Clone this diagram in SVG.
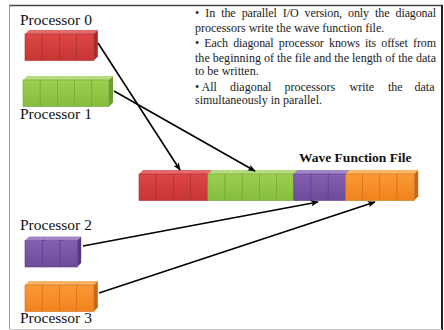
<svg xmlns="http://www.w3.org/2000/svg" xmlns:xlink="http://www.w3.org/1999/xlink" width="444" height="330" viewBox="0 0 444 330">
<style>
  .lbl { font-family: "Liberation Serif", "Times New Roman", serif; font-size: 15.5px; fill: #111; }
  .title { font-family: "Liberation Serif", "Times New Roman", serif; font-size: 13.5px; font-weight: bold; fill: #111; }
  .note { font-family: "Liberation Serif", "Times New Roman", serif; font-size: 12px; fill: #222; }
  .conn { stroke: #000; stroke-width: 1.6; fill: none; marker-end: url(#ah); }
</style>
<defs>
  <marker id="ah" viewBox="0 0 10 10" refX="9" refY="5" markerWidth="8" markerHeight="8" orient="auto" markerUnits="userSpaceOnUse">
    <path d="M0,1 L10,5 L0,9 L2.5,5 Z" fill="#000"/>
  </marker>
  <linearGradient id="gR" x1="0" y1="0" x2="0" y2="1"><stop offset="0" stop-color="#dc4646"/><stop offset="1" stop-color="#c83434"/></linearGradient>
  <linearGradient id="gG" x1="0" y1="0" x2="0" y2="1"><stop offset="0" stop-color="#9ccf50"/><stop offset="1" stop-color="#86bd3c"/></linearGradient>
  <linearGradient id="gP" x1="0" y1="0" x2="0" y2="1"><stop offset="0" stop-color="#8560b0"/><stop offset="1" stop-color="#6e4a9a"/></linearGradient>
  <linearGradient id="gO" x1="0" y1="0" x2="0" y2="1"><stop offset="0" stop-color="#fa9a36"/><stop offset="1" stop-color="#f0821c"/></linearGradient>
  <g id="cR">
    <polygon points="0,0 4,-4 21.2,-4 17.2,0" fill="#e56a6a"/>
    <polygon points="17.2,0 21.2,-4 21.2,22.5 17.2,26.5" fill="#a82a2a"/>
    <rect x="0" y="0" width="17.2" height="26.5" fill="url(#gR)" stroke="#ad2c2c" stroke-width="0.6"/>
  </g>
  <g id="cG">
    <polygon points="0,0 4,-4 21.2,-4 17.2,0" fill="#b5dc80"/>
    <polygon points="17.2,0 21.2,-4 21.2,22.5 17.2,26.5" fill="#6e9c2e"/>
    <rect x="0" y="0" width="17.2" height="26.5" fill="url(#gG)" stroke="#74a433" stroke-width="0.6"/>
  </g>
  <g id="cP">
    <polygon points="0,0 4,-4 21.2,-4 17.2,0" fill="#a285c6"/>
    <polygon points="17.2,0 21.2,-4 21.2,22.5 17.2,26.5" fill="#573a7e"/>
    <rect x="0" y="0" width="17.2" height="26.5" fill="url(#gP)" stroke="#5e3f88" stroke-width="0.6"/>
  </g>
  <g id="cO">
    <polygon points="0,0 4,-4 21.2,-4 17.2,0" fill="#fbb566"/>
    <polygon points="17.2,0 21.2,-4 21.2,22.5 17.2,26.5" fill="#c96712"/>
    <rect x="0" y="0" width="17.2" height="26.5" fill="url(#gO)" stroke="#d06e16" stroke-width="0.6"/>
  </g>
</defs>

<rect width="444" height="330" fill="#fff"/>
<g id="frame">
  <line x1="9" y1="5.5" x2="443" y2="5.5" stroke="#444" stroke-width="1.5"/>
  <line x1="9.5" y1="5" x2="9.5" y2="330" stroke="#999" stroke-width="1"/>
  <line x1="442" y1="5" x2="442" y2="330" stroke="#222" stroke-width="2"/>
  <line x1="9" y1="329.5" x2="442" y2="329.5" stroke="#ccc" stroke-width="1"/>
</g>

<g id="notes">
  <text class="note" x="195" y="17.3" textLength="241" lengthAdjust="spacing" word-spacing="3.3">• In the parallel I/O version, only the diagonal</text>
  <text class="note" x="195" y="32.3">processors write the wave function file.</text>
  <text class="note" x="195" y="46.7" textLength="241" lengthAdjust="spacing" word-spacing="2.4">• Each diagonal processor knows its offset from</text>
  <text class="note" x="195" y="61.7" textLength="241" lengthAdjust="spacing">the beginning of the file and the length of the data</text>
  <text class="note" x="195" y="75">to be written.</text>
  <text class="note" y="90.5"><tspan x="195">• All</tspan><tspan x="230">diagonal</tspan><tspan x="284.5">processors</tspan><tspan x="349.5">write</tspan><tspan x="388">the</tspan><tspan x="414.5">data</tspan></text>
  <text class="note" x="195" y="104.3">simultaneously in parallel.</text>
</g>

<g id="processor0">
  <text class="lbl" x="20" y="25">Processor 0</text>
  <use xlink:href="#cR" x="25" y="34"/>
  <use xlink:href="#cR" x="42.2" y="34"/>
  <use xlink:href="#cR" x="59.4" y="34"/>
  <use xlink:href="#cR" x="76.6" y="34"/>
</g>

<g id="processor1">
  <use xlink:href="#cG" x="23" y="80"/>
  <use xlink:href="#cG" x="40.2" y="80"/>
  <use xlink:href="#cG" x="57.4" y="80"/>
  <use xlink:href="#cG" x="74.6" y="80"/>
  <use xlink:href="#cG" x="91.8" y="80"/>
  <text class="lbl" x="20" y="119">Processor 1</text>
</g>

<g id="wave-function-file">
  <text class="title" x="299" y="162">Wave Function File</text>
  <use xlink:href="#cR" x="139" y="174"/>
  <use xlink:href="#cR" x="156.2" y="174"/>
  <use xlink:href="#cR" x="173.4" y="174"/>
  <use xlink:href="#cR" x="190.6" y="174"/>
  <use xlink:href="#cG" x="207.8" y="174"/>
  <use xlink:href="#cG" x="225" y="174"/>
  <use xlink:href="#cG" x="242.2" y="174"/>
  <use xlink:href="#cG" x="259.4" y="174"/>
  <use xlink:href="#cG" x="276.6" y="174"/>
  <use xlink:href="#cP" x="293.8" y="174"/>
  <use xlink:href="#cP" x="311" y="174"/>
  <use xlink:href="#cP" x="328.2" y="174"/>
  <use xlink:href="#cO" x="345.4" y="174"/>
  <use xlink:href="#cO" x="362.6" y="174"/>
  <use xlink:href="#cO" x="379.8" y="174"/>
  <use xlink:href="#cO" x="397" y="174"/>
</g>

<g id="processor2">
  <text class="lbl" x="20" y="230">Processor 2</text>
  <use xlink:href="#cP" x="25" y="240.5"/>
  <use xlink:href="#cP" x="42.5" y="240.5"/>
  <use xlink:href="#cP" x="60" y="240.5"/>
</g>

<g id="processor3">
  <use xlink:href="#cO" x="25" y="285"/>
  <use xlink:href="#cO" x="42.2" y="285"/>
  <use xlink:href="#cO" x="59.4" y="285"/>
  <use xlink:href="#cO" x="76.6" y="285"/>
  <text class="lbl" x="20" y="323">Processor 3</text>
</g>

<g id="connectors">
  <line class="conn" x1="98" y1="43" x2="180" y2="170"/>
  <line class="conn" x1="114" y1="91" x2="255" y2="171"/>
  <line class="conn" x1="83" y1="246" x2="318" y2="202"/>
  <line class="conn" x1="99" y1="293" x2="375" y2="202"/>
</g>
</svg>
